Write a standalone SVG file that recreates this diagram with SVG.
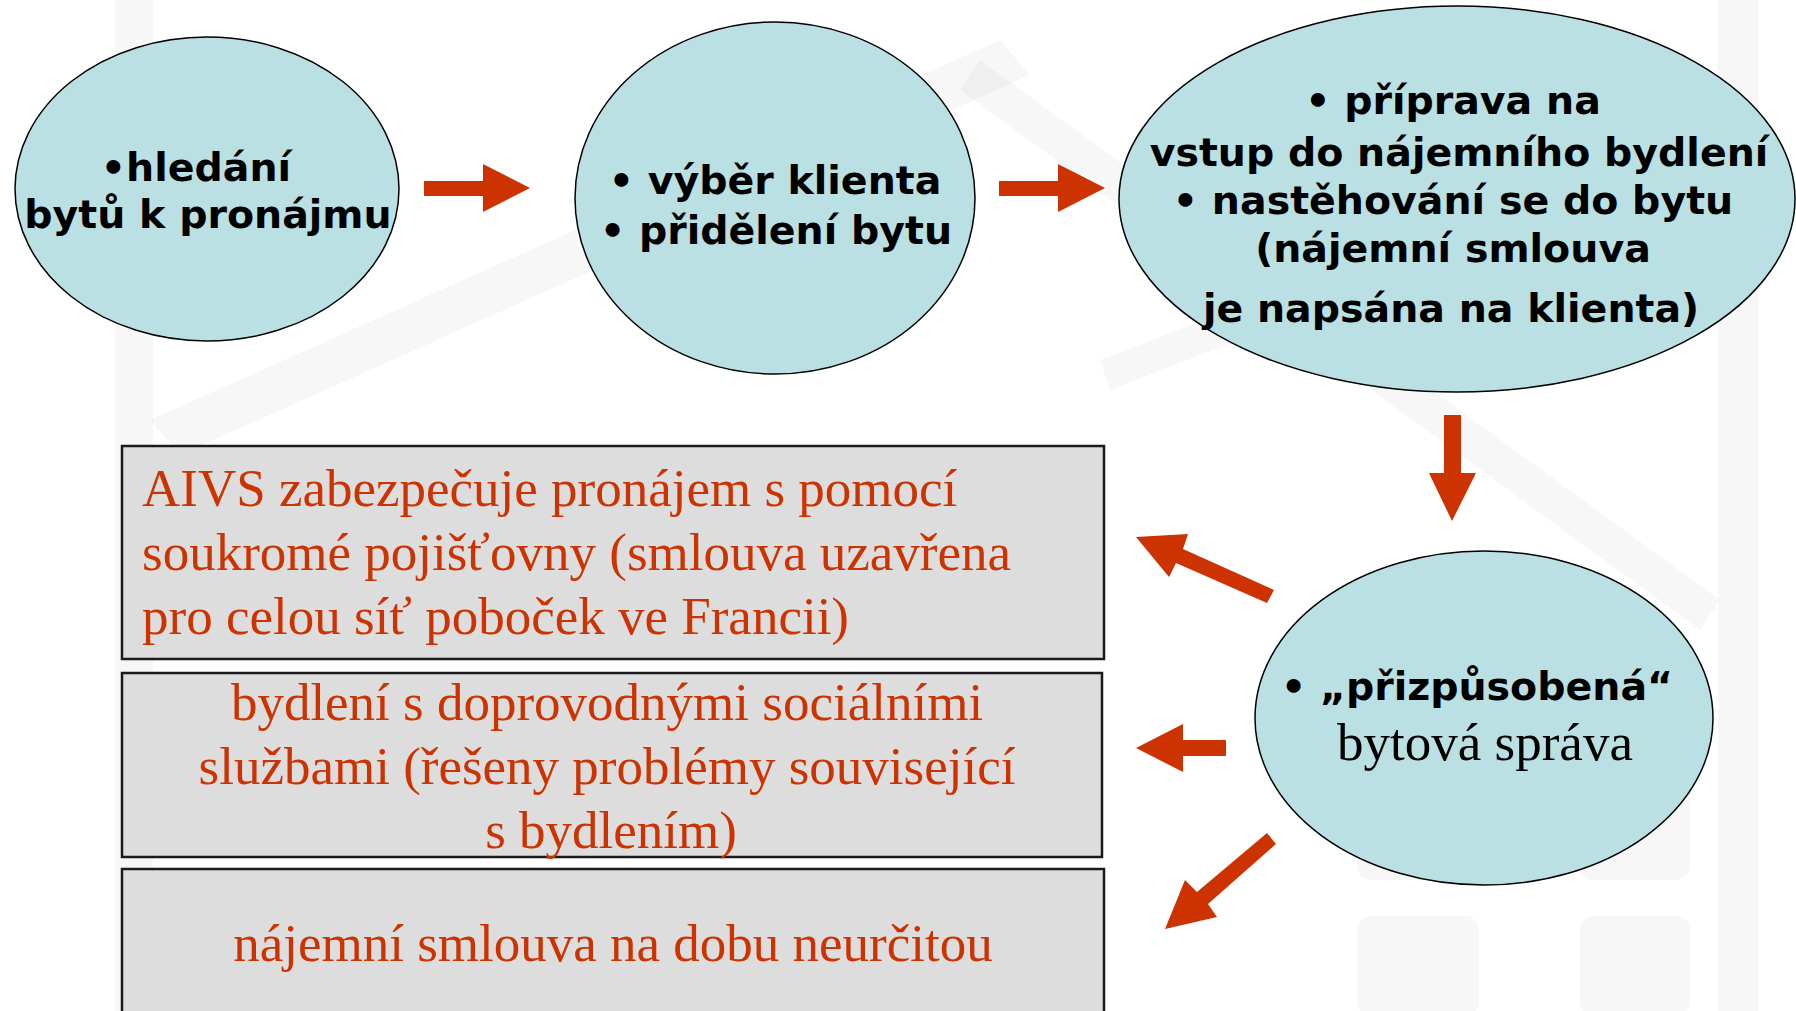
<svg xmlns="http://www.w3.org/2000/svg" width="1796" height="1011" viewBox="0 0 1796 1011">
<style>
.ell{fill:#BBE0E3;stroke:#000;stroke-width:1.5}
.box{fill:#DDDDDD;stroke:#1a1a1a;stroke-width:2.5}
.arr{fill:#CC3300;stroke:none}
.b{font-family:"DejaVu Sans","Verdana",sans-serif;font-weight:bold;font-size:39.5px;fill:#000;text-anchor:middle}
.t{font-family:"Liberation Serif","Times New Roman",serif;font-size:53px;fill:#CC3300}
.tm{text-anchor:middle}
.bg{fill:#000;opacity:0.03}
</style>
<rect width="1796" height="1011" fill="#ffffff"/>
<g id="background">
<rect class="bg" x="115" y="0" width="38" height="1011"/>
<rect class="bg" x="1718" y="0" width="40" height="1011"/>
<polygon class="bg" points="150,420 1000,40 1030,75 180,455"/>
<polygon class="bg" points="980,60 1720,600 1700,630 960,90"/>
<polygon class="bg" points="1100,360 1720,120 1730,150 1110,390"/>
<rect class="bg" x="1357" y="916" width="122" height="100" rx="14"/>
<rect class="bg" x="1580" y="916" width="110" height="100" rx="14"/>
<rect class="bg" x="1357" y="770" width="122" height="110" rx="14"/>
<rect class="bg" x="1580" y="770" width="110" height="110" rx="14"/>
</g>
<g id="connectors">
<polygon class="arr" points="424,181 483,181 483,164 530,188 483,212 483,196 424,196"/>
<polygon class="arr" points="999,181 1058,181 1058,164 1105,188 1058,212 1058,196 999,196"/>
<polygon class="arr" points="1444,415 1461,415 1461,473 1476,473 1452,521 1429,473 1444,473"/>
<polygon class="arr" points="1274,590 1267,603 1176,563 1169,577 1136,537 1188,534 1183,549"/>
<polygon class="arr" points="1226,740 1226,756 1183,756 1183,772 1136,748 1183,724 1183,740"/>
<polygon class="arr" points="1276,844 1267,833 1197,892 1185,880 1165,929 1217,917 1208,904"/>
</g>
<g id="node-hledani">
<ellipse class="ell" cx="207" cy="189" rx="192" ry="152"/>
<text class="b" x="196" y="181">•hledání</text>
<text class="b" x="208" y="228">bytů k pronájmu</text>
</g>
<g id="node-vyber">
<ellipse class="ell" cx="775" cy="198" rx="200" ry="176"/>
<text class="b" x="775" y="194">• výběr klienta</text>
<text class="b" x="776" y="244">• přidělení bytu</text>
</g>
<g id="node-priprava">
<ellipse class="ell" cx="1457" cy="199" rx="338" ry="193"/>
<text class="b" x="1453" y="114">• příprava na</text>
<text class="b" x="1459" y="166">vstup do nájemního bydlení</text>
<text class="b" x="1453" y="214">• nastěhování se do bytu</text>
<text class="b" x="1453" y="262">(nájemní smlouva</text>
<text class="b" x="1451" y="322">je napsána na klienta)</text>
</g>
<g id="node-sprava">
<ellipse class="ell" cx="1484" cy="718" rx="229" ry="167"/>
<text class="b" x="1477" y="700">• „přizpůsobená“</text>
<text class="t tm" x="1485" y="760" style="fill:#000">bytová správa</text>
</g>
<g id="box-aivs">
<rect class="box" x="122" y="446" width="982" height="213"/>
<text class="t" x="142" y="506">AIVS zabezpečuje pronájem s pomocí</text>
<text class="t" x="142" y="570">soukromé pojišťovny (smlouva uzavřena</text>
<text class="t" x="142" y="634">pro celou síť poboček ve Francii)</text>
</g>
<g id="box-bydleni">
<rect class="box" x="122" y="673" width="980" height="184"/>
<text class="t tm" x="607" y="720">bydlení s doprovodnými sociálními</text>
<text class="t tm" x="607" y="784">službami (řešeny problémy související</text>
<text class="t tm" x="611" y="848">s bydlením)</text>
</g>
<g id="box-smlouva">
<rect class="box" x="122" y="869" width="982" height="160"/>
<text class="t tm" x="613" y="961">nájemní smlouva na dobu neurčitou</text>
</g>
</svg>
